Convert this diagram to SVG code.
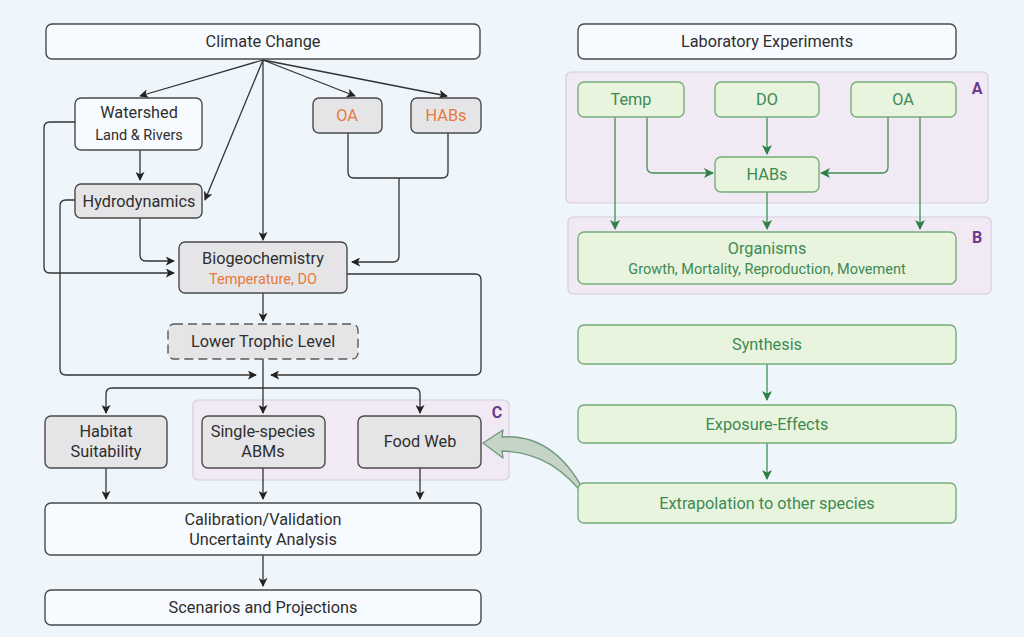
<svg xmlns="http://www.w3.org/2000/svg" width="1024" height="637" viewBox="0 0 1024 637">
<defs>
<style>
.bg{fill:#eef5fb}
.bx{fill:#f7fbff;stroke:#4a4a4a;stroke-width:1.4}
.gr{fill:#e5e5e7;stroke:#4a4a4a;stroke-width:1.4}
.dash{fill:#e5e5e7;stroke:#5a5a5a;stroke-width:1.4;stroke-dasharray:9 5}
.grp{fill:#f1e9f3;stroke:#d8cde0;stroke-width:1.2}
.gb{fill:#e9f4df;stroke:#76ad78;stroke-width:1.4}
.t{font-family:Roboto,"Liberation Sans",sans-serif;font-size:16.3px;fill:#2e2e2e;text-anchor:middle}
.s{font-size:14.5px}
.o{fill:#e8793a}
.g{fill:#3d8a52}
.lab{font-family:Roboto,"Liberation Sans",sans-serif;font-size:16px;font-weight:bold;fill:#6b3a8e}
.c{fill:none;stroke:#333;stroke-width:1.3;marker-end:url(#ah)}
.cn{fill:none;stroke:#333;stroke-width:1.3}
.cg{fill:none;stroke:#3f8f57;stroke-width:1.3;marker-end:url(#ag)}
</style>
<marker id="ah" viewBox="0 0 10 10" refX="9" refY="5" markerWidth="9" markerHeight="9" markerUnits="userSpaceOnUse" orient="auto"><path d="M0,0 L10,5 L0,10 L2.5,5 Z" fill="#222"/></marker>
<marker id="ag" viewBox="0 0 10 10" refX="9" refY="5" markerWidth="10" markerHeight="10" markerUnits="userSpaceOnUse" orient="auto"><path d="M0,0 L10,5 L0,10 L2.5,5 Z" fill="#2f7f47"/></marker>
</defs>
<rect class="bg" x="0" y="0" width="1024" height="637"/>

<g id="group-C"><rect class="grp" x="193" y="400" width="316" height="80" rx="5"/><text class="lab" x="497" y="418" text-anchor="middle">C</text></g>
<g id="group-A"><rect class="grp" x="566" y="72" width="422" height="131" rx="5"/><text class="lab" x="977" y="94" text-anchor="middle">A</text></g>
<g id="group-B"><rect class="grp" x="568" y="217" width="423" height="77" rx="5"/><text class="lab" x="977" y="243" text-anchor="middle">B</text></g>

<g id="connectors">
<path class="c" d="M263,60 L140,96"/>
<path class="c" d="M263,60 L205,200"/>
<path class="c" d="M263,60 L263,240"/>
<path class="c" d="M263,60 L355,96"/>
<path class="c" d="M263,60 L447,96"/>
<path class="c" d="M140,150 L140,180"/>
<path class="c" d="M75,122 L50,122 Q44,122 44,128 L44,267 Q44,273 50,273 L174,273"/>
<path class="c" d="M75,200 L66,200 Q60,200 60,206 L60,369 Q60,375 66,375 L256,375"/>
<path class="c" d="M140,218 L140,255 Q140,261 146,261 L174,261"/>
<path class="cn" d="M348,133 L348,172 Q348,178 354,178 L442,178 Q448,178 448,172 L448,133"/>
<path class="c" d="M399,178 L399,256 Q399,262 393,262 L352,262"/>
<path class="c" d="M347,274 L475,274 Q481,274 481,280 L481,369 Q481,375 475,375 L271,375"/>
<path class="c" d="M263,293 L263,321"/>
<path class="c" d="M263,359 L263,413"/>
<path class="c" d="M263,388 L112,388 Q106,388 106,394 L106,413"/>
<path class="c" d="M263,388 L414,388 Q420,388 420,394 L420,413"/>
<path class="c" d="M106,468 L106,499"/>
<path class="c" d="M263,468 L263,499"/>
<path class="c" d="M420,468 L420,499"/>
<path class="c" d="M263,555 L263,586"/>
<path class="cg" d="M767,117 L767,154"/>
<path class="cg" d="M647,117 L647,167 Q647,173 653,173 L713,173"/>
<path class="cg" d="M888,117 L888,167 Q888,173 882,173 L821,173"/>
<path class="cg" d="M615,117 L615,229"/>
<path class="cg" d="M920,117 L920,229"/>
<path class="cg" d="M767,192 L767,229"/>
<path class="cg" d="M767,364 L767,400"/>
<path class="cg" d="M767,443 L767,479"/>
<path d="M483,443 L503,430 L502,437 C540,434 570,458 589,502 C566,470 540,452 502,451 L503,458 Z" fill="#c6d4c7" stroke="#6c9a7a" stroke-width="1.3" stroke-linejoin="round"/>
</g>

<g id="climate-change"><rect class="bx" x="46" y="24" width="434" height="35" rx="6"/><text class="t" x="263" y="47">Climate Change</text></g>
<g id="watershed"><rect class="bx" x="75" y="98" width="127" height="52" rx="6"/><text class="t" x="139" y="118">Watershed</text><text class="t s" x="139" y="140">Land &amp; Rivers</text></g>
<g id="oa"><rect class="gr" x="313" y="98" width="69" height="35" rx="6"/><text class="t o" x="347" y="121">OA</text></g>
<g id="habs"><rect class="gr" x="411" y="98" width="70" height="35" rx="6"/><text class="t o" x="446" y="121">HABs</text></g>
<g id="hydrodynamics"><rect class="gr" x="75" y="184" width="127" height="34" rx="6"/><text class="t" x="139" y="207">Hydrodynamics</text></g>
<g id="biogeochemistry"><rect class="gr" x="179" y="242" width="168" height="51" rx="6"/><text class="t" x="263" y="264">Biogeochemistry</text><text class="t s o" x="263" y="284">Temperature, DO</text></g>
<g id="lower-trophic"><rect class="dash" x="168" y="324" width="190" height="35" rx="6"/><text class="t" x="263" y="347">Lower Trophic Level</text></g>
<g id="habitat"><rect class="gr" x="45" y="416" width="122" height="52" rx="6"/><text class="t" x="106" y="437">Habitat</text><text class="t" x="106" y="457">Suitability</text></g>
<g id="single-species"><rect class="gr" x="202" y="416" width="123" height="52" rx="6"/><text class="t" x="263" y="437">Single-species</text><text class="t" x="263" y="457">ABMs</text></g>
<g id="food-web"><rect class="gr" x="358" y="416" width="123" height="52" rx="6"/><text class="t" x="420" y="447">Food Web</text></g>
<g id="calibration"><rect class="bx" x="45" y="503" width="436" height="52" rx="6"/><text class="t" x="263" y="525">Calibration/Validation</text><text class="t" x="263" y="545">Uncertainty Analysis</text></g>
<g id="scenarios"><rect class="bx" x="45" y="590" width="436" height="35" rx="6"/><text class="t" x="263" y="613">Scenarios and Projections</text></g>

<g id="lab-experiments"><rect class="bx" x="578" y="24" width="378" height="35" rx="6"/><text class="t" x="767" y="47">Laboratory Experiments</text></g>
<g id="temp"><rect class="gb" x="578" y="82" width="106" height="35" rx="6"/><text class="t g" x="631" y="105">Temp</text></g>
<g id="do"><rect class="gb" x="715" y="82" width="104" height="35" rx="6"/><text class="t g" x="767" y="105">DO</text></g>
<g id="oa-lab"><rect class="gb" x="851" y="82" width="105" height="35" rx="6"/><text class="t g" x="903" y="105">OA</text></g>
<g id="habs-lab"><rect class="gb" x="715" y="157" width="104" height="35" rx="6"/><text class="t g" x="767" y="180">HABs</text></g>
<g id="organisms"><rect class="gb" x="578" y="232" width="378" height="52" rx="6"/><text class="t g" x="767" y="254">Organisms</text><text class="t s g" x="767" y="274">Growth, Mortality, Reproduction, Movement</text></g>
<g id="synthesis"><rect class="gb" x="578" y="325" width="378" height="39" rx="6"/><text class="t g" x="767" y="350">Synthesis</text></g>
<g id="exposure"><rect class="gb" x="578" y="405" width="378" height="38" rx="6"/><text class="t g" x="767" y="430">Exposure-Effects</text></g>
<g id="extrapolation"><rect class="gb" x="578" y="483" width="378" height="40" rx="6"/><text class="t g" x="767" y="509">Extrapolation to other species</text></g>
</svg>
